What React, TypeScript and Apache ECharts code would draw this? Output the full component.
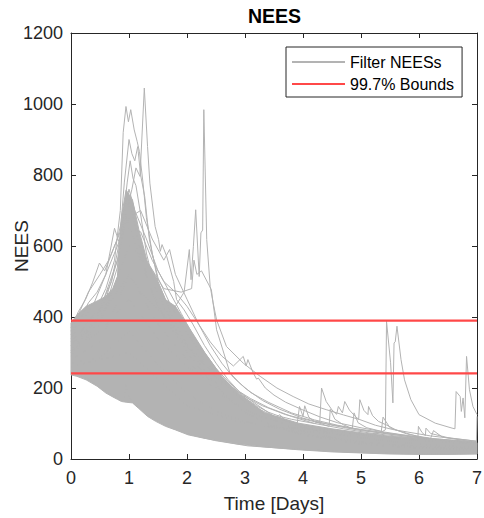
import React, { useEffect, useRef } from "react";
import * as echarts from "echarts";

// Dense band of filter NEES runs (envelope)
const bandT = [0, 0.1, 0.26, 0.45, 0.6, 0.72, 0.8, 0.87, 0.95, 1.06, 1.17, 1.32, 1.46, 1.63, 1.8, 2.02, 2.31, 2.6, 2.88, 3.34, 3.92, 4.5, 5.0, 5.5, 6.0, 6.5, 7.0];
const bandLow = [237, 233, 223, 205, 186, 175, 168, 162, 160, 158, 142, 120, 106, 92, 82, 68, 58, 50, 42, 34, 26, 20, 17, 14, 13, 13, 14];
const bandHigh = [383, 405, 430, 445, 458, 480, 514, 683, 758, 730, 646, 553, 514, 449, 430, 374, 299, 233, 186, 130, 101, 85, 74, 64, 58, 52, 46];

// Individual runs that stand out
const lineA = [[0,300],[0.2,340],[0.4,385],[0.6,450],[0.8,560],[0.95,690],[1.05,760],[1.12,820],[1.19,796],[1.264,1045],[1.32,880],[1.36,777],[1.45,655],[1.51,618],[1.54,585],[1.57,604],[1.65,571],[1.77,500],[1.82,449],[1.95,420],[2.1,380],[2.3,320],[2.5,270],[2.7,225],[2.9,190],[3.1,165],[3.5,120],[4,88],[4.5,72],[5,60],[5.5,50],[6,42],[6.5,36],[7,32]];
const lineB = [[0,320],[0.2,365],[0.4,410],[0.6,480],[0.75,560],[0.85,700],[0.9,920],[0.948,993],[0.99,950],[1.03,984],[1.09,927],[1.14,895],[1.18,866],[1.24,780],[1.3,680],[1.4,580],[1.5,510],[1.7,440],[1.9,380],[2.1,330],[2.3,280],[2.6,220],[3,160],[3.5,110],[4,78],[4.5,60],[5,48],[6,35],[7,28]];
const lineC = [[0,290],[0.3,345],[0.6,430],[0.8,540],[0.92,780],[1.0,900],[1.05,860],[1.1,840],[1.15,880],[1.2,800],[1.27,740],[1.35,620],[1.5,500],[1.7,420],[2,320],[2.3,250],[2.6,190],[3,130],[3.5,95],[4,70],[5,45],[6,33],[7,26]];
const lineD = [[0,305],[0.4,390],[0.7,500],[0.88,650],[0.97,780],[1.02,840],[1.07,790],[1.12,770],[1.2,690],[1.3,580],[1.45,480],[1.7,400],[2,300],[2.5,200],[3,130],[3.5,92],[4,68],[5,42],[6,31],[7,24]];
const lineE = [[0,280],[0.5,330],[0.9,480],[1.0,520],[1.2,470],[1.5,420],[1.8,430],[1.95,470],[2.04,590],[2.07,505],[2.11,599],[2.15,702],[2.21,514],[2.24,637],[2.27,645],[2.29,984],[2.34,618],[2.40,486],[2.45,440],[2.51,392],[2.68,317],[2.97,270],[3.26,233],[3.55,200],[3.83,176],[4.1,155],[4.4,139],[4.7,124],[4.98,111],[5.25,95],[5.55,83],[6.2,65],[7,50]];
const lineF = [[0,270],[0.5,285],[1,360],[1.5,265],[2,185],[2.5,135],[3,105],[3.5,88],[4,78],[4.5,72],[5,68],[5.3,72],[5.42,82],[5.44,388],[5.51,271],[5.55,158],[5.57,327],[5.59,330],[5.62,374],[5.69,280],[5.75,223],[5.86,167],[6,125],[6.28,101],[6.57,87],[6.62,85],[6.64,190],[6.71,176],[6.73,134],[6.76,172],[6.79,116],[6.82,289],[6.87,195],[6.93,148],[7,125]];
const lineG = [[0,300],[0.5,360],[1,450],[1.5,340],[2,260],[2.5,215],[2.8,200],[3.0,172],[3.2,150],[3.4,132],[3.6,120],[3.8,112],[4.0,106],[4.2,100],[4.29,106],[4.32,200],[4.4,162],[4.5,138],[4.58,126],[4.61,148],[4.68,130],[4.72,162],[4.8,138],[4.9,120],[4.96,112],[4.98,167],[5.05,137],[5.12,125],[5.13,148],[5.2,122],[5.3,106],[5.45,95],[5.6,82],[6.0,62],[6.5,50],[7,42]];
const lineH = [[0,320],[0.5,400],[1,520],[1.5,380],[2,280],[2.5,190],[3,140],[3.3,118],[3.5,110],[3.6,125],[3.7,108],[3.9,100],[3.94,148],[4.0,120],[4.03,150],[4.1,118],[4.2,105],[4.45,92],[4.47,140],[4.55,112],[4.7,96],[4.85,86],[4.88,130],[4.95,102],[5.1,88],[5.35,78],[5.38,118],[5.5,88],[5.8,70],[6.2,58],[6.25,80],[6.4,62],[7,46]];
const lineI = [[0,330],[0.5,420],[0.8,560],[1,650],[1.2,640],[1.4,560],[1.6,500],[1.8,470],[2.0,430],[2.2,380],[2.4,330],[2.6,290],[2.8,262],[2.97,289],[3.02,262],[3.05,280],[3.14,243],[3.2,225],[3.23,228],[3.35,200],[3.5,180],[3.7,160],[4.0,138],[4.3,118],[4.6,102],[5,88],[5.4,76],[5.8,66],[6.2,56],[7,45]];
const lineJ = [[0,300],[0.5,380],[1,600],[1.3,560],[1.6,480],[1.9,470],[2.08,480],[2.12,560],[2.17,520],[2.25,530],[2.42,477],[2.51,364],[2.74,243],[2.9,215],[3.1,187],[3.4,160],[3.8,130],[4.2,110],[4.6,95],[5,82],[5.5,70],[6,60],[6.5,52],[7,45]];
const lineK = [[0,340],[0.4,440],[0.8,600],[1,680],[1.2,700],[1.4,620],[1.6,560],[1.7,590],[1.8,520],[2.0,450],[2.2,380],[2.4,320],[2.6,270],[2.8,230],[3,200],[3.3,165],[3.6,140],[4,115],[4.5,95],[5,80],[5.5,70],[6,60],[7,48]];
const lineL = [[0,360],[0.3,470],[0.5,520],[0.65,560],[0.8,620],[1.0,760],[1.1,700],[1.3,620],[1.5,530],[1.7,470],[1.9,410],[2.1,350],[2.3,300],[2.5,255],[2.7,220],[2.9,190],[3.1,170],[3.4,145],[3.8,120],[4.2,100],[4.7,85],[5.2,72],[6,58],[7,46]];
const lineN = [[0,370],[0.13,416],[0.25,449],[0.37,496],[0.49,552],[0.58,530],[0.66,561],[0.75,600],[0.85,640],[0.95,720],[1.05,700],[1.15,620],[1.3,520],[1.5,430],[1.8,360],[2.1,300],[2.5,230],[3,160],[3.5,120],[4,95],[5,68],[6,52],[7,42]];
const lineO = [[0,350],[0.15,390],[0.3,440],[0.45,470],[0.6,520],[0.75,650],[0.85,600],[0.95,680],[1.05,640],[1.2,560],[1.4,470],[1.6,400],[1.8,350],[2.0,320],[2.2,290],[2.4,250],[2.6,230],[2.8,200],[3.0,175],[3.3,150],[3.7,125],[4.2,105],[4.8,88],[5.5,72],[6.2,58],[7,47]];
const lineP = [[0,260],[1,300],[2,150],[3,100],[4,85],[4.5,80],[5,70],[5.5,62],[5.98,55],[5.99,92],[6.05,75],[6.11,66],[6.12,87],[6.2,72],[6.5,60],[6.9,52],[6.99,50],[7,120]];
const lineQ = [[0,245],[0.3,225],[0.6,190],[0.85,165],[0.93,175],[0.95,209],[0.99,180],[1.06,160],[1.34,122],[1.63,94],[2.02,70],[2.48,52],[3.05,37],[3.92,27],[5,18],[6,14],[7,15]];

const runs = [lineA, lineB, lineC, lineD, lineE, lineF, lineG, lineH, lineI, lineJ, lineK, lineL, lineN, lineO, lineP, lineQ];

const upperBound = 389.6;
const lowerBound = 241;
const xMin = 0, xMax = 7, xStep = 1;
const yMin = 0, yMax = 1200, yStep = 200;

const GRAY = "#b3b3b3";
const RED = "#ff4848";
const AX = "#262626";
const FONT = "'Liberation Sans', Arial, Helvetica, sans-serif";

export default function App() {
  const ref = useRef<HTMLDivElement>(null);
  useEffect(() => {
    if (!ref.current) return;
    const chart = echarts.init(ref.current, null, { renderer: "svg" });
    const axisCommon = {
      axisLine: { show: true, onZero: false, lineStyle: { color: AX, width: 1 } },
      axisTick: { show: true, inside: true, length: 5, lineStyle: { color: AX, width: 1 } },
      splitLine: { show: false },
    };
    const series: any[] = [
      {
        name: "band",
        type: "custom",
        data: [[bandT[0], bandLow[0]]],
        encode: { x: 0, y: 1 },
        silent: true,
        z: 2,
        renderItem: (_params: any, api: any) => {
          const pts: number[][] = [];
          for (let i = 0; i < bandT.length; i++) pts.push(api.coord([bandT[i], bandHigh[i]]));
          for (let i = bandT.length - 1; i >= 0; i--) pts.push(api.coord([bandT[i], bandLow[i]]));
          return {
            type: "polygon",
            shape: { points: pts },
            style: { fill: GRAY, stroke: GRAY, lineWidth: 1 },
          };
        },
      },
    ];
    runs.forEach((r) => {
      series.push({
        name: "Filter NEESs",
        type: "line",
        data: r,
        symbol: "none",
        color: GRAY,
        lineStyle: { color: GRAY, width: 1 },
        silent: true,
        z: 3,
      });
    });
    [upperBound, lowerBound].forEach((b) => {
      series.push({
        name: "99.7% Bounds",
        type: "line",
        data: [[xMin, b], [xMax, b]],
        symbol: "none",
        color: RED,
        lineStyle: { color: RED, width: 2.2 },
        silent: true,
        z: 5,
      });
    });

    const fmt = (v: number) => String(v);

    chart.setOption({
      animation: false,
      textStyle: { fontFamily: FONT },
      title: {
        text: "NEES",
        left: 248,
        top: 6,
        padding: 0,
        textStyle: { fontSize: 19.5, fontWeight: "bold", color: "#000", fontFamily: FONT },
      },
      legend: {
        data: [
          { name: "Filter NEESs", icon: "rect" },
          { name: "99.7% Bounds", icon: "rect" },
        ],
        orient: "vertical",
        left: 286,
        top: 47,
        itemWidth: 53,
        itemHeight: 2,
        itemGap: 6,
        padding: [7, 8, 5, 6],
        borderColor: AX,
        borderWidth: 1,
        backgroundColor: "#fff",
        selectedMode: false,
        textStyle: { fontSize: 16, color: "#000", lineHeight: 16, fontFamily: FONT },
      },
      grid: { left: 71, right: 7, top: 33, bottom: 59, containLabel: false, outerBoundsMode: "none" },
      xAxis: [
        {
          type: "value",
          min: xMin,
          max: xMax,
          interval: xStep,
          position: "bottom",
          ...axisCommon,
          axisLabel: { fontSize: 18, color: AX, margin: 10, fontFamily: FONT, formatter: fmt },
          name: "Time [Days]",
          nameLocation: "middle",
          nameGap: 35,
          nameMoveOverlap: false,
          nameTextStyle: { fontSize: 19, color: AX, fontFamily: FONT },
        },
        {
          type: "value",
          min: xMin,
          max: xMax,
          interval: xStep,
          position: "top",
          ...axisCommon,
          axisLabel: { show: false },
        },
      ],
      yAxis: [
        {
          type: "value",
          min: yMin,
          max: yMax,
          interval: yStep,
          position: "left",
          ...axisCommon,
          axisLabel: { fontSize: 18, color: AX, margin: 8, fontFamily: FONT, formatter: fmt },
          name: "NEES",
          nameLocation: "middle",
          nameGap: 40,
          nameMoveOverlap: false,
          nameTextStyle: { fontSize: 19, color: AX, fontFamily: FONT },
        },
        {
          type: "value",
          min: yMin,
          max: yMax,
          interval: yStep,
          position: "right",
          ...axisCommon,
          axisLabel: { show: false },
        },
      ],
      series,
    });
    return () => chart.dispose();
  }, []);
  return (
    <div
      ref={ref}
      style={{ position: "fixed", left: 0, top: 0, width: 484, height: 518, background: "#fff" }}
    />
  );
}
